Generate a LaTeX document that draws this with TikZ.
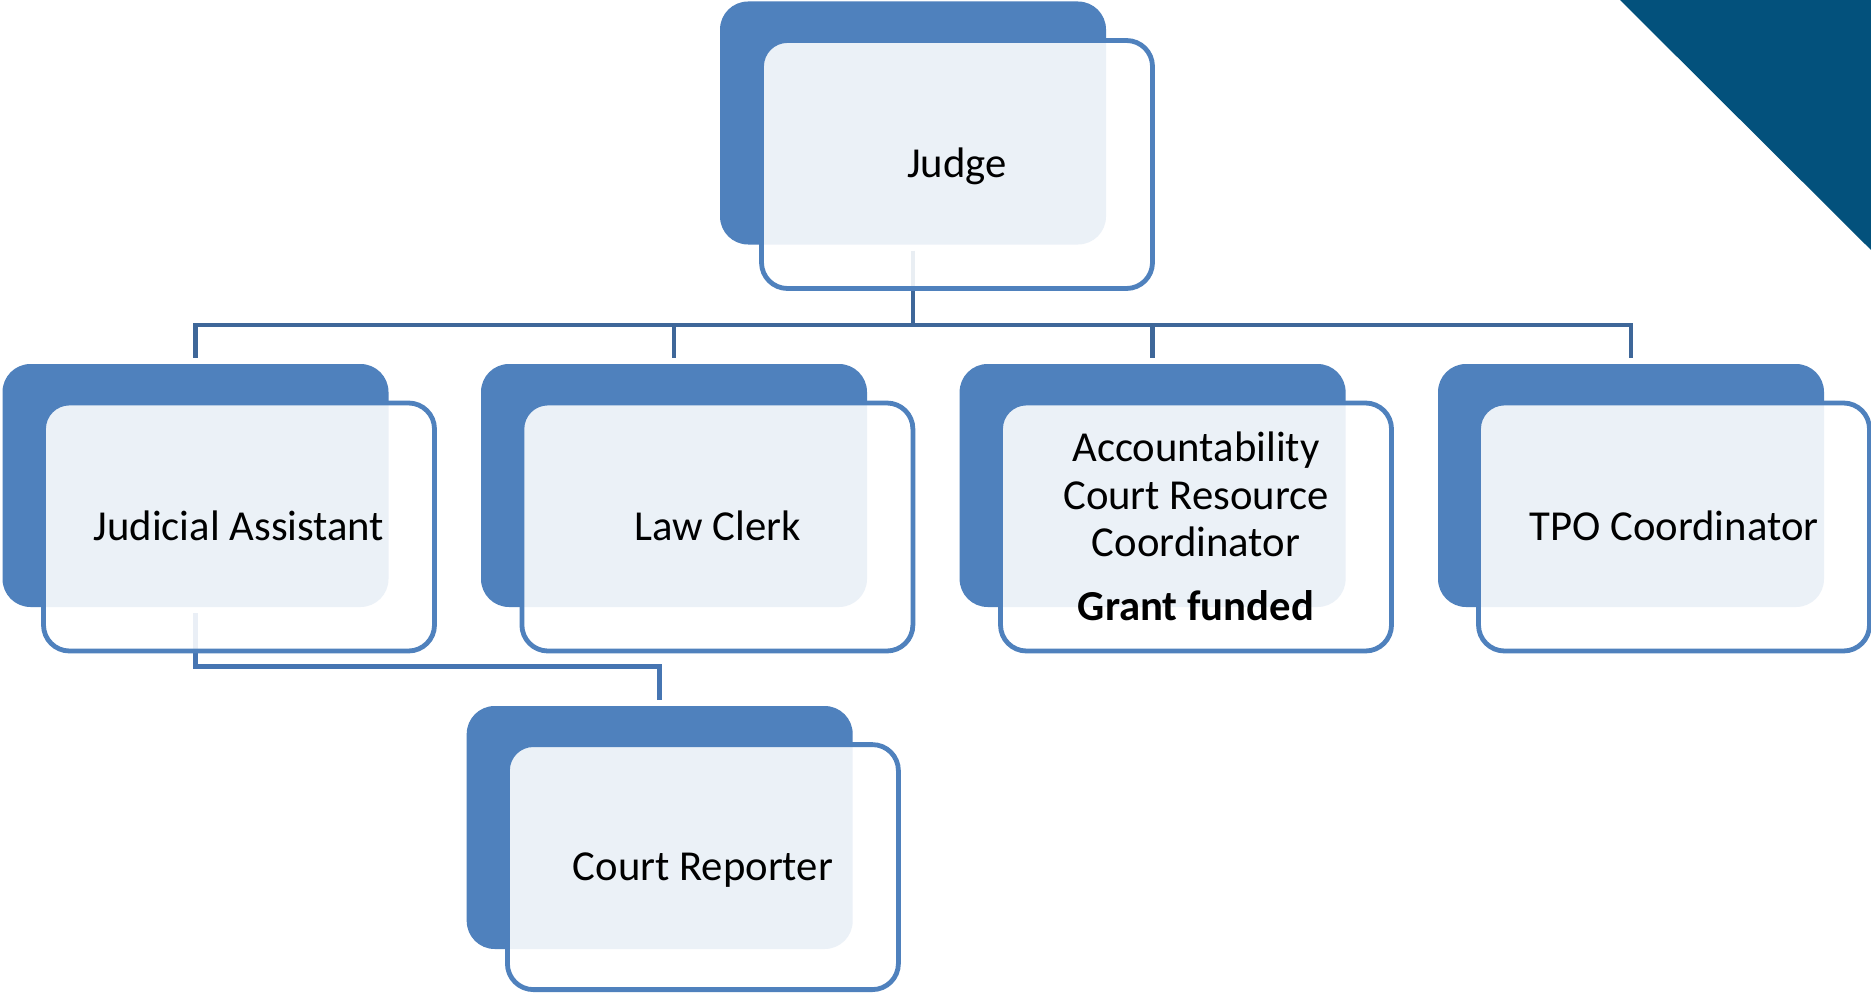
\documentclass[tikz,border=0pt]{standalone}
\usepackage{fontspec}
\setmainfont{Carlito}
\definecolor{accent}{HTML}{4F81BD}
\definecolor{busc}{HTML}{3E6799}
\definecolor{subc}{HTML}{4675B2}
\definecolor{tric}{HTML}{03517C}
\newcommand\lblfont{\fontsize{42.7}{47.2}\selectfont}
\pgfdeclarelayer{bg}
\pgfdeclarelayer{conn}
\pgfsetlayers{bg,conn,main}
\begin{document}
\begin{tikzpicture}[x=1pt,y=-1pt,
  darkbox/.style={rectangle, rounded corners=28pt, fill=accent, inner sep=0pt,
    minimum width=386pt, minimum height=243pt},
  outbox/.style={rectangle, rounded corners=26pt, draw=accent, line width=4.8pt,
    fill=white, fill opacity=0.89, text opacity=1, inner sep=0pt,
    minimum width=391pt, minimum height=248pt, font=\lblfont,
    text height=27pt, text depth=0pt},
  bus/.style={draw=busc, line width=4.8pt},
  sub/.style={draw=subc, line width=4.8pt}]
\useasboundingbox (0,0) rectangle (1871,995);
\begin{pgfonlayer}{bg}
  \fill[white] (0,0) rectangle (1871,995);
  \fill[tric] (1620,0) -- (1871,0) -- (1871,250) -- cycle;
\end{pgfonlayer}

% dark back boxes
\node[darkbox] (judgeD) at (913,123) {};
\node[darkbox] (jaD) at (195.5,485.5) {};
\node[darkbox] (lcD) at (674,485.5) {};
\node[darkbox] (acrcD) at (1152.6,485.5) {};
\node[darkbox] (tpoD) at (1631,485.5) {};
\node[darkbox] (crD) at (659.7,827.5) {};

% outlined text boxes
\node[outbox] (judge) at (957,164.5) {Judge};
\node[outbox] (ja) at (239,527) {Judicial Assistant};
\node[outbox] (lc) at (717.4,527) {Law Clerk};
\node[outbox] (acrc) at (1196,527) {};
\node[outbox] (tpo) at (1674,527) {TPO Coordinator};
\node[outbox, minimum height=245pt] (cr) at (702.9,867.1) {Court Reporter};

\node[font=\lblfont, align=center, anchor=south, inner sep=0pt] (acrcT) at (1196,621)
  {Accountability\\Court Resource\\Coordinator\\[17pt]\textbf{Grant funded}};

% connectors
\coordinate (busy) at (0,325);
\coordinate (suby) at (0,666.5);
\begin{pgfonlayer}{conn}
  \draw[bus] ([yshift=-6pt]judgeD.south) -- (judgeD.south |- busy);
  \draw[bus] ([yshift=6pt]jaD.north) -- (jaD.north |- busy) -- (tpoD.north |- busy) -- ([yshift=6pt]tpoD.north);
  \draw[bus] ([yshift=6pt]lcD.north) -- (lcD.north |- busy);
  \draw[bus] ([yshift=6pt]acrcD.north) -- (acrcD.north |- busy);
  \draw[sub] ([yshift=-6pt]jaD.south) -- (jaD.south |- suby) -- (crD.north |- suby) -- ([yshift=6pt]crD.north);
\end{pgfonlayer}
\end{tikzpicture}
\end{document}
